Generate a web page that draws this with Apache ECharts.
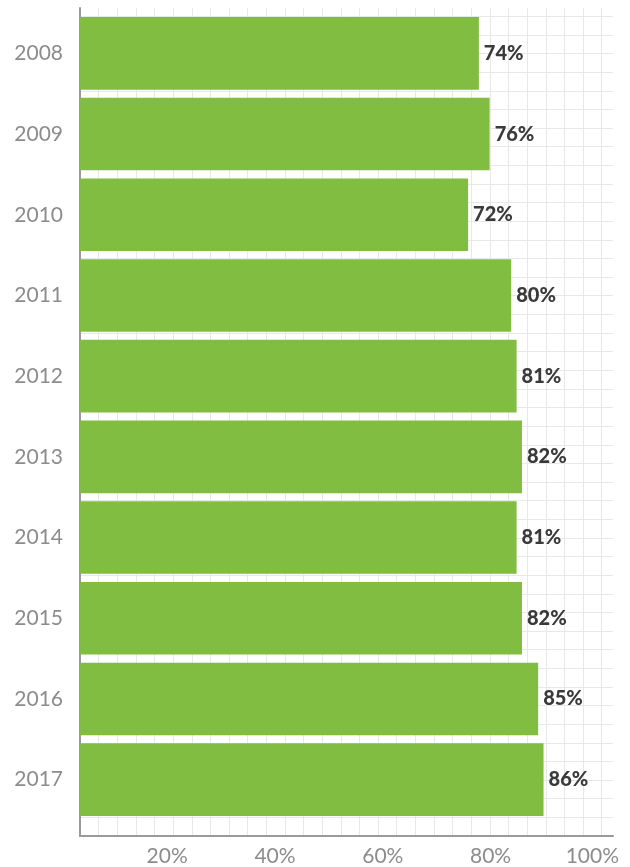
<!DOCTYPE html>
<html><head><meta charset="utf-8">
<script src="https://cdn.jsdelivr.net/npm/echarts@6/dist/echarts.min.js"></script>
<style>html,body{margin:0;padding:0;background:#fff}#c{width:630px;height:867px}</style>
</head><body><div id="c"></div>
<script>
const years = ['2008','2009','2010','2011','2012','2013','2014','2015','2016','2017'];
const values = [74, 76, 72, 80, 81, 82, 81, 82, 85, 86];
const xTickStep = 20;

const chart = echarts.init(document.getElementById('c'), null, {renderer: 'canvas'});
const cell = 18.63;
chart.setOption({
  backgroundColor: '#fff',
  animation: false,
  grid: [
    {left: 80, right: 11, top: 13, bottom: 45},
    {left: 80, right: 17, top: 8, bottom: 31}
  ],
  xAxis: [
    {type: 'value', gridIndex: 0, min: 0, max: 100, interval: xTickStep,
     axisLine: {show: false}, axisTick: {show: false}, splitLine: {show: false},
     axisLabel: {show: true, showMinLabel: false, align: 'right', margin: 26,
       formatter: '{value}%', color: '#8c8c8c', fontSize: 21, fontFamily: 'Lato'}},
    {type: 'value', gridIndex: 1, min: 0, max: 533 / cell, interval: 1,
     axisLine: {show: true, onZero: false, lineStyle: {color: '#9a9a9a', width: 2}},
     axisTick: {show: false}, axisLabel: {show: false},
     splitLine: {show: true, showMinLine: false, showMaxLine: false, lineStyle: {color: '#e8e8e8', width: 1}}}
  ],
  yAxis: [
    {type: 'category', gridIndex: 0, data: years, inverse: true,
     axisLine: {show: false}, axisTick: {show: false}, splitLine: {show: false},
     axisLabel: {margin: 17, color: '#8c8c8c', fontSize: 21, fontFamily: 'Lato'}},
    {type: 'value', gridIndex: 1, min: 0, max: 828 / cell, interval: 1,
     axisLine: {show: true, onZero: false, lineStyle: {color: '#9a9a9a', width: 2}},
     axisTick: {show: false}, axisLabel: {show: false},
     splitLine: {show: true, showMinLine: false, showMaxLine: false, lineStyle: {color: '#e8e8e8', width: 1}}}
  ],
  series: [{
    type: 'bar', xAxisIndex: 0, yAxisIndex: 0, data: values,
    barCategoryGap: '10%', z: 5,
    itemStyle: {color: '#80bd41'},
    label: {show: true, position: 'right', distance: 5, formatter: '{c}%',
      color: '#3a3a3a', fontWeight: 900, fontSize: 20, fontFamily: 'Lato'}
  }]
});
</script>
</body></html>
